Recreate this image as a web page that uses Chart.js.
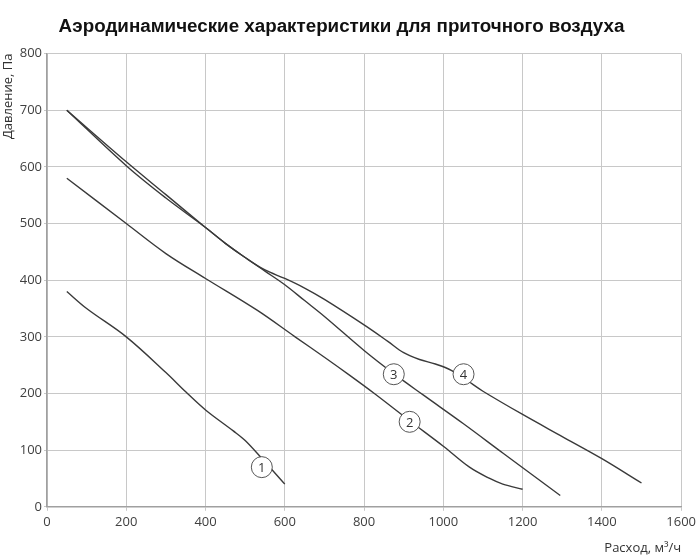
<!DOCTYPE html>
<html>
<head>
<meta charset="utf-8">
<script src="https://cdn.jsdelivr.net/npm/chart.js@4.4.1/dist/chart.umd.min.js"></script>
<style>
  html, body { margin: 0; padding: 0; background: #fff; }
  #wrap { width: 700px; height: 560px; }
</style>
</head>
<body>
<div id="wrap"><canvas id="aeroChart"></canvas></div>
<script>
// Values (расход м3/ч, давление Па)
var flow1 = [50, 100, 200, 300, 350, 400, 470, 500, 540, 600];
var pressure1 = [380, 350, 300, 237, 203, 171, 134, 117, 87, 40];

var flow2 = [50, 200, 300, 400, 530, 626, 700, 764, 826, 915, 1000, 1066, 1117, 1150, 1200];
var pressure2 = [580, 500, 447, 403, 347, 300, 264, 232, 200, 152, 107, 70, 50, 40, 31];

var flow3 = [50, 200, 300, 400, 450, 500, 550, 600, 650, 700, 800, 875, 950, 1050, 1150, 1295];
var pressure3 = [700, 602, 545, 493, 465, 440, 416, 392, 364, 336, 276, 235, 197, 147, 95, 20];

var flow4 = [50, 200, 300, 400, 450, 500, 550, 600, 650, 700, 800, 860, 900, 940, 980, 1020, 1060, 1100, 1200, 1300, 1400, 1500];
var pressure4 = [700, 609, 551, 493, 465, 440, 418, 403, 386, 366, 321, 292, 272, 260, 252, 241, 223, 204, 163, 124, 85, 42];

var markFlow = [542, 915, 875, 1051];
var markPressure = [70, 150, 234, 234];
var markText = ['1', '2', '3', '4'];

var xTicks = [0, 200, 400, 600, 800, 1000, 1200, 1400, 1600];
var yTicks = [0, 100, 200, 300, 400, 500, 600, 700, 800];

function pairs(xs, ys) {
    return xs.map(function (x, i) { return { x: x, y: ys[i] }; });
}

function curve(xs, ys) {
    return {
        type: 'line',
        data: pairs(xs, ys),
        borderColor: '#3a3a3a',
        borderWidth: 1.4,
        pointRadius: 0,
        fill: false,
        tension: 0.35,
        order: 2
    };
}

// draws the curve numbers inside the circles
var markLabels = {
    id: 'markLabels',
    afterDatasetsDraw: function (chart) {
        var meta = chart.getDatasetMeta(4);
        var ctx = chart.ctx;
        ctx.save();
        ctx.font = '13px "Open Sans", sans-serif';
        ctx.fillStyle = '#333';
        ctx.textAlign = 'center';
        ctx.textBaseline = 'middle';
        meta.data.forEach(function (pt, i) {
            ctx.fillText(markText[i], pt.x, pt.y + 1);
        });
        ctx.restore();
    }
};

document.addEventListener("DOMContentLoaded", function () {
    var ctx = document.getElementById('aeroChart').getContext('2d');
    var aeroChart = new Chart(ctx, {
        type: 'scatter',
        data: {
            datasets: [
                curve(flow1, pressure1),
                curve(flow2, pressure2),
                curve(flow3, pressure3),
                curve(flow4, pressure4),
                {
                    type: 'scatter',
                    data: pairs(markFlow, markPressure),
                    pointStyle: 'circle',
                    pointRadius: 10.5,
                    pointHoverRadius: 10.5,
                    backgroundColor: '#fff',
                    borderColor: '#555',
                    borderWidth: 1,
                    order: 1
                }
            ]
        },
        options: {
            responsive: true,
            maintainAspectRatio: false,
            animation: false,
            devicePixelRatio: 1,
            layout: { padding: { left: 0, right: 17, top: 10, bottom: 4 } },
            plugins: {
                legend: { display: false },
                tooltip: { enabled: false },
                title: {
                    display: true,
                    text: 'Аэродинамические характеристики для приточного воздуха',
                    color: '#111',
                    font: { family: '"Liberation Sans", Arial, sans-serif', size: 18.8, weight: 'bold' },
                    padding: { top: 6, bottom: 15 }
                }
            },
            scales: {
                x: {
                    type: 'linear',
                    min: 0,
                    max: 1600,
                    afterBuildTicks: function (scale) {
                        scale.ticks = xTicks.map(function (v) { return { value: v }; });
                    },
                    ticks: {
                        color: '#404040',
                        font: { family: '"Open Sans", sans-serif', size: 13 },
                        padding: 4,
                        maxRotation: 0,
                        callback: function (v) { return String(v); }
                    },
                    grid: { color: '#c8c8c8', lineWidth: 1, tickLength: 4 },
                    border: { color: '#a0a0a0', width: 1.5 },
                    title: {
                        display: true,
                        text: 'Расход, м³/ч',
                        align: 'end',
                        color: '#333',
                        font: { family: '"Open Sans", sans-serif', size: 13 },
                        padding: { top: 6, bottom: 0 }
                    }
                },
                y: {
                    type: 'linear',
                    min: 0,
                    max: 800,
                    afterBuildTicks: function (scale) {
                        scale.ticks = yTicks.map(function (v) { return { value: v }; });
                    },
                    afterFit: function (scale) { scale.width = 47; },
                    ticks: {
                        color: '#404040',
                        font: { family: '"Open Sans", sans-serif', size: 13 },
                        padding: 2,
                        callback: function (v) { return String(v); }
                    },
                    grid: { color: '#c8c8c8', lineWidth: 1, tickLength: 3 },
                    border: { color: '#a0a0a0', width: 1.5 },
                    title: {
                        display: true,
                        text: 'Давление, Па',
                        align: 'end',
                        color: '#333',
                        font: { family: '"Open Sans", sans-serif', size: 13 },
                        padding: { top: 0, bottom: 0 }
                    }
                }
            }
        },
        plugins: [markLabels]
    });
});
</script>
</body>
</html>
